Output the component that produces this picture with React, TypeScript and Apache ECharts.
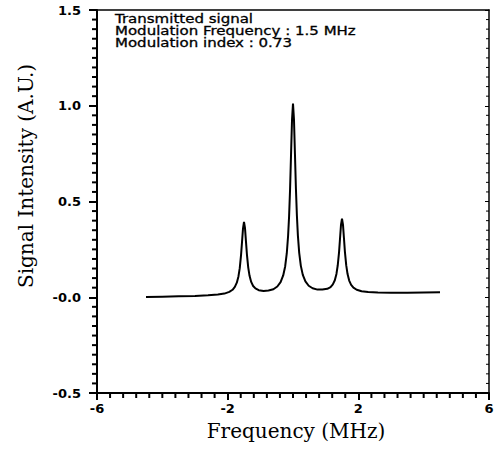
import React, { useEffect, useRef } from "react";
import * as echarts from "echarts";

// Frequency (MHz) sample positions
const freqs = [
  -4.5, -4.0, -3.5, -3.0, -2.6, -2.3, -2.1, -1.95, -1.85, -1.78, -1.72, -1.67, -1.63, -1.59, -1.56, -1.53,
  -1.5, -1.47, -1.44, -1.41, -1.37, -1.33, -1.28, -1.22, -1.15, -1.05, -0.9, -0.75, -0.6, -0.48, -0.38,
  -0.3, -0.24, -0.19, -0.15, -0.12, -0.09, -0.06, -0.03, 0, 0.03, 0.06, 0.09, 0.12, 0.15, 0.19, 0.24,
  0.3, 0.38, 0.48, 0.6, 0.75, 0.9, 1.05, 1.15, 1.22, 1.28, 1.33, 1.37, 1.41, 1.44, 1.47, 1.5, 1.53,
  1.56, 1.59, 1.63, 1.67, 1.72, 1.78, 1.85, 1.95, 2.1, 2.3, 2.6, 3.0, 3.5, 4.0, 4.5,
];
// Signal intensity (A.U.)
const intensity = [
  0.001, 0.003, 0.005, 0.007, 0.010, 0.014, 0.019, 0.028, 0.039, 0.054, 0.076, 0.109, 0.152, 0.221, 0.290, 0.360,
  0.393, 0.362, 0.292, 0.223, 0.155, 0.112, 0.080, 0.059, 0.046, 0.037, 0.033, 0.035, 0.042, 0.056, 0.079,
  0.114, 0.161, 0.230, 0.321, 0.422, 0.563, 0.746, 0.927, 1.011, 0.928, 0.747, 0.565, 0.424, 0.322, 0.232, 0.164,
  0.117, 0.083, 0.060, 0.047, 0.040, 0.041, 0.044, 0.053, 0.067, 0.089, 0.122, 0.167, 0.236, 0.308, 0.379, 0.411, 0.379,
  0.308, 0.236, 0.166, 0.121, 0.087, 0.065, 0.050, 0.039, 0.031, 0.027, 0.025, 0.024, 0.024, 0.025, 0.026,
];

const annotationLines = [
  "Transmitted signal",
  "Modulation Frequency : 1.5 MHz",
  "Modulation index : 0.73",
];

const xTitle = "Frequency (MHz)";
const yTitle = "Signal Intensity (A.U.)";

// axis ranges and minor-tick subdivisions
const xMin = -6, xMax = 6, xStep = 4, xMinorPerMajor = 10;
const yMin = -0.5, yMax = 1.5, yStep = 0.5, yMinorPerMajor = 10;

export default function App() {
  const ref = useRef<HTMLDivElement>(null);

  useEffect(() => {
    if (!ref.current) return;
    const chart = echarts.init(ref.current, undefined, { renderer: "svg" });
    const tickFont = { fontFamily: "DejaVu Sans", fontWeight: "bold" as const, fontSize: 13, color: "#000" };
    const data = freqs.map((f, i) => [f, intensity[i]]);
    const blk = { color: "#000" };

    chart.setOption({
      animation: false,
      backgroundColor: "#fff",
      grid: { left: 97, right: 10, top: 10, bottom: 58 },
      xAxis: [
        {
          type: "value",
          min: xMin,
          max: xMax,
          interval: xStep,
          axisLine: { show: true, onZero: false, lineStyle: { ...blk, width: 2 } },
          axisTick: { show: true, inside: false, length: 7, lineStyle: { ...blk, width: 2 } },
          splitLine: { show: false },
          axisLabel: { ...tickFont, margin: 9 },
        },
        {
          type: "value",
          position: "top",
          min: xMin,
          max: xMax,
          interval: xStep,
          axisLine: { show: true, onZero: false, lineStyle: { ...blk, width: 1.5 } },
          axisTick: { show: false },
          axisLabel: { show: false },
          splitLine: { show: false },
        },
      ],
      yAxis: [
        {
          type: "value",
          min: yMin,
          max: yMax,
          interval: yStep,
          axisLine: { show: true, onZero: false, lineStyle: { ...blk, width: 2 } },
          axisTick: { show: true, inside: false, length: 8, lineStyle: { ...blk, width: 2 } },
          splitLine: { show: false },
          axisLabel: {
            ...tickFont,
            margin: 16,
            formatter: (v: number) => (v === 0 ? "-0.0" : v.toFixed(1)),
          },
        },
        {
          type: "value",
          position: "right",
          min: yMin,
          max: yMax,
          interval: yStep,
          axisLine: { show: true, onZero: false, lineStyle: { ...blk, width: 1.5 } },
          axisTick: { show: true, inside: true, length: 4, lineStyle: { ...blk, width: 1 } },
          splitLine: { show: false },
          axisLabel: { show: false },
        },
      ],
      series: [
        {
          type: "line",
          data,
          showSymbol: false,
          symbol: "none",
          lineStyle: { color: "#000", width: 2 },
          xAxisIndex: 0,
          yAxisIndex: 0,
        },
      ],
    });

    // minor ticks placed through the axes' own scales
    const minorTicks: any[] = [];
    const yBottom = chart.convertToPixel({ yAxisIndex: 0 }, yMin) as number;
    const xLeft = chart.convertToPixel({ xAxisIndex: 0 }, xMin) as number;
    const xRight = chart.convertToPixel({ xAxisIndex: 0 }, xMax) as number;
    const nx = ((xMax - xMin) / xStep) * xMinorPerMajor;
    for (let k = 1; k < nx; k++) {
      if (k % xMinorPerMajor === 0) continue;
      const v = xMin + (k * xStep) / xMinorPerMajor;
      const px = chart.convertToPixel({ xAxisIndex: 0 }, v) as number;
      minorTicks.push({
        type: "line",
        shape: { x1: px, y1: yBottom, x2: px, y2: yBottom + 5 },
        style: { stroke: "#000", lineWidth: 2 },
        silent: true,
      });
    }
    const ny = ((yMax - yMin) / yStep) * yMinorPerMajor;
    for (let k = 1; k < ny; k++) {
      if (k % yMinorPerMajor === 0) continue;
      const v = yMin + (k * yStep) / yMinorPerMajor;
      const py = chart.convertToPixel({ yAxisIndex: 0 }, v) as number;
      minorTicks.push({
        type: "line",
        shape: { x1: xLeft - 5, y1: py, x2: xLeft + 1, y2: py },
        style: { stroke: "#000", lineWidth: 2 },
        silent: true,
      });
      minorTicks.push({
        type: "line",
        shape: { x1: xRight - 3, y1: py, x2: xRight, y2: py },
        style: { stroke: "#000", lineWidth: 1 },
        silent: true,
      });
    }

    chart.setOption({
      graphic: [
        {
          type: "text",
          x: 296,
          y: 431,
          style: {
            text: xTitle,
            fontFamily: "DejaVu Serif",
            fontSize: 20,
            fill: "#000",
            textAlign: "center",
            textVerticalAlign: "middle",
          },
        },
        {
          type: "text",
          x: 26,
          y: 176,
          rotation: Math.PI / 2,
          style: {
            text: yTitle,
            fontFamily: "DejaVu Serif",
            fontSize: 20,
            fill: "#000",
            textAlign: "center",
            textVerticalAlign: "middle",
          },
        },
        ...annotationLines.map((t, i) => ({
          type: "text",
          x: 115,
          y: 13 + i * 12,
          scaleX: 1.25,
          style: {
            text: t,
            fontFamily: "DejaVu Sans",
            fontSize: 12,
            fill: "#000",
            stroke: "#000",
            lineWidth: 0.3,
            textAlign: "left",
            textVerticalAlign: "top",
          },
        })),
        ...minorTicks,
      ],
    });
    return () => chart.dispose();
  }, []);

  return (
    <div
      ref={ref}
      style={{ position: "fixed", left: 0, top: 0, width: 499, height: 451, background: "#fff" }}
    />
  );
}
